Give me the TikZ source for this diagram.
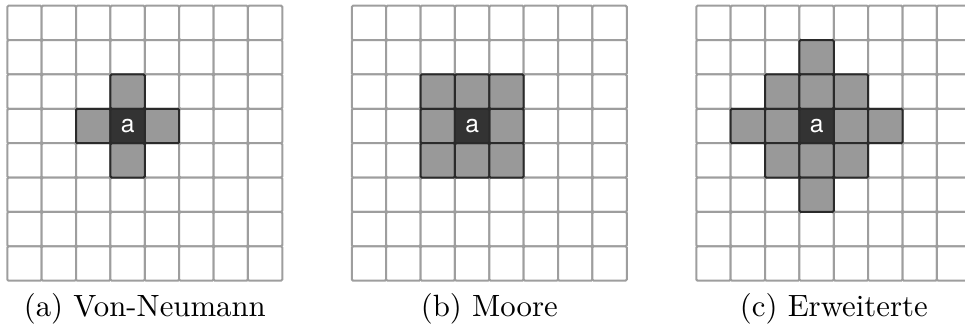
\documentclass[tikz,border=0pt]{standalone}
\usepackage{fontspec}
\newfontfamily\cellfont{TeX Gyre Heros}
\definecolor{gridline}{HTML}{9E9E9E}
\definecolor{nbfill}{HTML}{999999}
\definecolor{darkfill}{HTML}{333333}
\definecolor{darkline}{HTML}{2A2A2A}
\tikzset{
  gridcell/.style={draw=gridline, line width=0.65pt, fill=white, rounded corners=0.4pt},
  nbcell/.style={draw=darkline, line width=0.65pt, fill=nbfill, rounded corners=0.4pt},
  centercell/.style={draw=darkline, line width=0.65pt, fill=darkfill, rounded corners=0.4pt,
    minimum size=11.17pt, inner sep=0pt, text=white, font=\cellfont\fontsize{8}{9.5}\selectfont},
  caption/.style={anchor=base, font=\fontsize{10}{12}\selectfont}
}
\begin{document}
\begin{tikzpicture}[x=0.325pt,y=-0.325pt]
\useasboundingbox (0,0) rectangle (965,331);
\def\cs{34.375}
\def\gy{5.7}
% grids
\foreach \gx in {7.3,351.8,696.3}{
  \foreach \i in {0,...,7}{
    \foreach \j in {0,...,7}{
      \draw[gridcell] ({\gx+\i*\cs},{\gy+\j*\cs}) rectangle ++(\cs,\cs);
    }
  }
}
% (a) Von Neumann
\foreach \i/\j in {3/2,2/3,4/3,3/4}{
  \draw[nbcell] ({7.3+\i*\cs},{\gy+\j*\cs}) rectangle ++(\cs,\cs);
}
\node[centercell] (ca) at ({7.3+3.5*\cs},{\gy+3.5*\cs}) {a};
% (b) Moore
\foreach \i/\j in {2/2,3/2,4/2,2/3,4/3,2/4,3/4,4/4}{
  \draw[nbcell] ({351.8+\i*\cs},{\gy+\j*\cs}) rectangle ++(\cs,\cs);
}
\node[centercell] (cb) at ({351.8+3.5*\cs},{\gy+3.5*\cs}) {a};
% (c) Erweiterte
\foreach \i/\j in {3/1,2/2,3/2,4/2,1/3,2/3,4/3,5/3,2/4,3/4,4/4,3/5}{
  \draw[nbcell] ({696.3+\i*\cs},{\gy+\j*\cs}) rectangle ++(\cs,\cs);
}
\node[centercell] (cc) at ({696.3+3.5*\cs},{\gy+3.5*\cs}) {a};
% captions
\node[caption] (capa) at ({7.3+4*\cs},316.7) {(a) Von-Neumann};
\node[caption] (capb) at ({351.8+4*\cs},316.7) {(b) Moore};
\node[caption] (capc) at ({696.3+4*\cs},316.7) {(c) Erweiterte};
\end{tikzpicture}
\end{document}
